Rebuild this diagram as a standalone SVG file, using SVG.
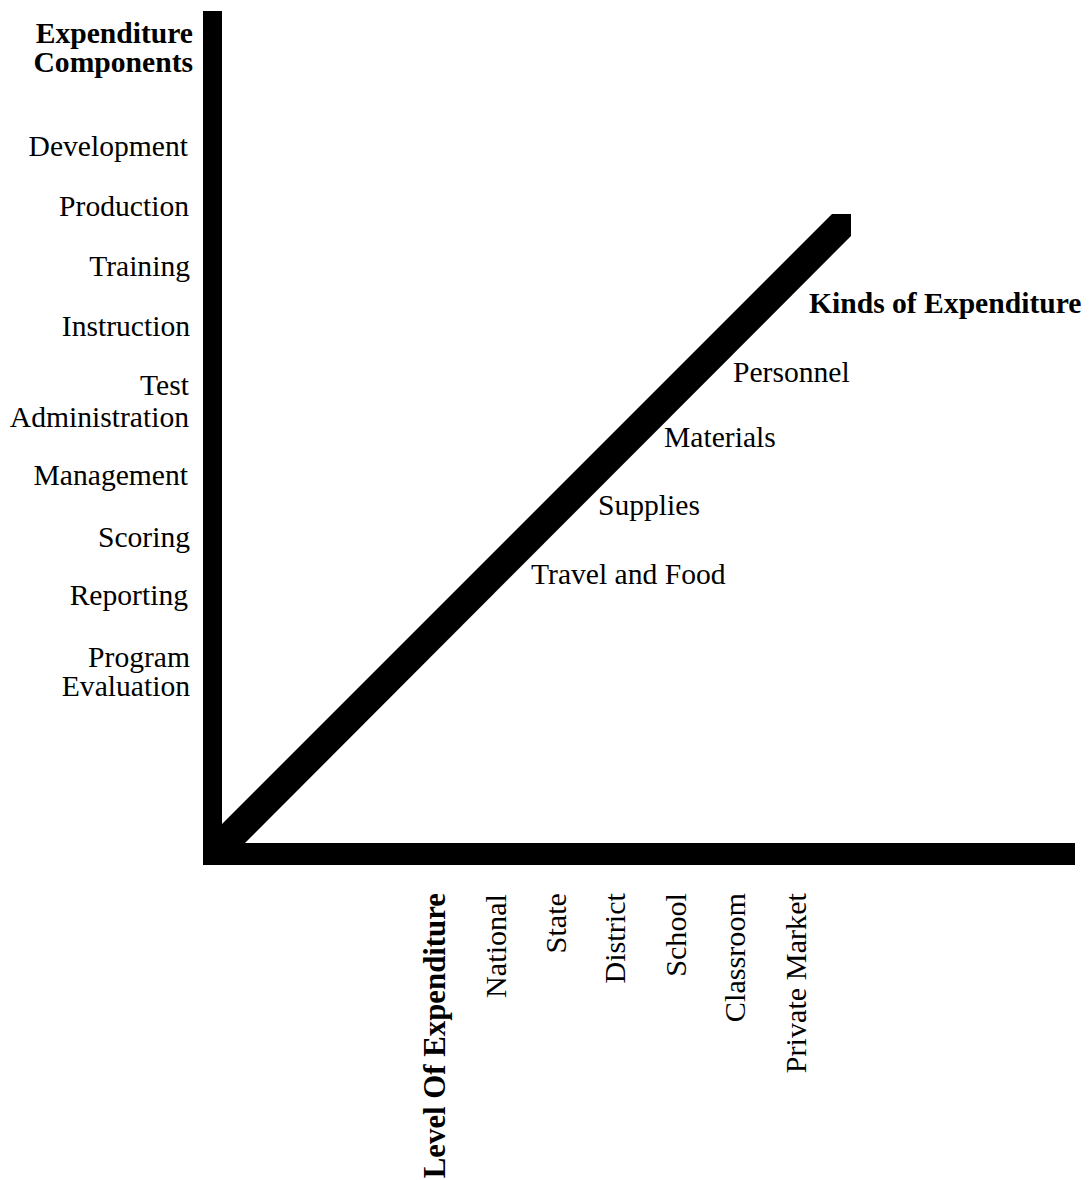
<svg xmlns="http://www.w3.org/2000/svg" width="1092" height="1180" viewBox="0 0 1092 1180">
<style>
text{font-family:"Liberation Serif","Times New Roman",serif;font-size:29.6px;fill:#000}
.b{font-weight:bold}
.l{text-anchor:end}
.v{font-size:30.2px}
.vb{font-size:30.8px}
.axis{fill:#000;stroke:none}
</style>
<rect width="1092" height="1180" fill="#fff"/>
<g id="axes">
<rect class="axis" x="203" y="11" width="19" height="854"/>
<rect class="axis" x="203" y="843" width="872" height="22"/>
<polygon class="axis" points="832,214 851,214 851,236 243,845 222,845 222,824"/>
</g>
<g id="components">
<text class="b l" x="193" y="43">Expenditure</text>
<text class="b l" x="193" y="72">Components</text>
<text class="l" x="188" y="156">Development</text>
<text class="l" x="189" y="216">Production</text>
<text class="l" x="190" y="276">Training</text>
<text class="l" x="190" y="336">Instruction</text>
<text class="l" x="189" y="395">Test</text>
<text class="l" x="189" y="427">Administration</text>
<text class="l" x="188" y="485">Management</text>
<text class="l" x="190" y="547">Scoring</text>
<text class="l" x="188" y="605">Reporting</text>
<text class="l" x="190" y="667">Program</text>
<text class="l" x="190" y="696">Evaluation</text>
</g>
<g id="kinds">
<text class="b" x="809" y="313">Kinds of Expenditure</text>
<text x="733" y="382">Personnel</text>
<text x="664" y="447">Materials</text>
<text x="598" y="515">Supplies</text>
<text x="531" y="584">Travel and Food</text>
</g>
<g id="levels">
<text class="b l vb" transform="translate(445,893) rotate(-90)">Level Of Expenditure</text>
<text class="l v" transform="translate(506,894) rotate(-90)">National</text>
<text class="l v" transform="translate(566,893) rotate(-90)">State</text>
<text class="l v" transform="translate(625,893) rotate(-90)">District</text>
<text class="l v" transform="translate(686,893) rotate(-90)">School</text>
<text class="l v" transform="translate(745,893) rotate(-90)">Classroom</text>
<text class="l v" transform="translate(806,893) rotate(-90)">Private Market</text>
</g>
</svg>
